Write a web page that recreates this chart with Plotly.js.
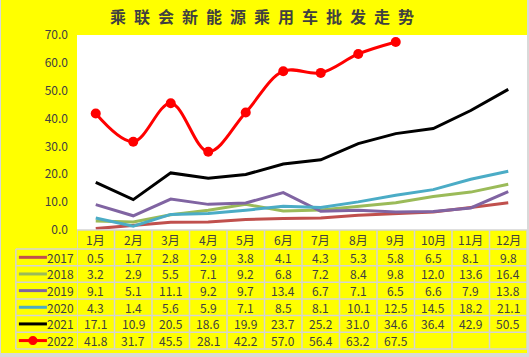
<!DOCTYPE html>
<html>
<head>
<meta charset="utf-8">
<script src="https://cdn.plot.ly/plotly-3.0.1.min.js"></script>
<style>
html,body{margin:0;padding:0;background:#d9d9d9;width:529px;height:357px;overflow:hidden;}
#chart{position:absolute;left:1px;top:0;width:526px;height:353px;}
</style>
</head>
<body>
<div id="chart"></div>
<script>
const months = ['1月','2月','3月','4月','5月','6月','7月','8月','9月','10月','11月','12月'];
const years = ['2017','2018','2019','2020','2021','2022'];
const s2017 = [0.5,1.7,2.8,2.9,3.8,4.1,4.3,5.3,5.8,6.5,8.1,9.8];
const s2018 = [3.2,2.9,5.5,7.1,9.2,6.8,7.2,8.4,9.8,12.0,13.6,16.4];
const s2019 = [9.1,5.1,11.1,9.2,9.7,13.4,6.7,7.1,6.5,6.6,7.9,13.8];
const s2020 = [4.3,1.4,5.6,5.9,7.1,8.5,8.1,10.1,12.5,14.5,18.2,21.1];
const s2021 = [17.1,10.9,20.5,18.6,19.9,23.7,25.2,31.0,34.6,36.4,42.9,50.5];
const s2022 = [41.8,31.7,45.5,28.1,42.2,57.0,56.4,63.2,67.5,null,null,null];
const yTicks = [0,10,20,30,40,50,60,70];

const seriesData = [s2017,s2018,s2019,s2020,s2021,s2022];
const colors = ['#C0504D','#9BBB59','#8064A2','#4BACC6','#000000','#FF0000'];

const H = 353, T = 35, B = 230;
const PH = B - T;
const L = 77, R = 526, PW = R - L;
function py(ypx){ return 1 - (ypx - T)/PH; }
function px(xpx){ return (xpx - L)/PW; }

const traces = seriesData.map((d,i)=>{
  const t = {
    x: months, y: d, name: years[i], type:'scatter', mode:'lines',
    line:{color:colors[i], width:3},
    showlegend:false, hoverinfo:'skip'
  };
  if (i===5){ t.mode='lines+markers'; t.line.shape='spline'; t.marker={size:10,color:colors[i]}; }
  return t;
});

const font = 'Noto Sans CJK SC, sans-serif';
const txtColor = '#404040';
const gridC = '#d4d4d4';
const headTop = 230, headBot = 249, rowH = 16.65;
const shapes = [];
const annotations = [];

shapes.push({type:'line', xref:'x', yref:'paper', x0:-0.5, x1:11.5, y0:py(headTop), y1:py(headTop), line:{color:gridC,width:1.5}});
for (let k=0;k<=12;k++){
  shapes.push({type:'line', xref:'x', yref:'paper', x0:k-0.5, x1:k-0.5, y0:py(headTop), y1:py(headBot+rowH*6), line:{color:gridC,width:1.5}});
}
const legLeft = px(16);
shapes.push({type:'line', xref:'paper', yref:'paper', x0:legLeft, x1:legLeft, y0:py(headBot), y1:py(headBot+rowH*6), line:{color:gridC,width:1.5}});
for (let r=0;r<=6;r++){
  const yy = py(headBot + rowH*r);
  shapes.push({type:'line', xref:'paper', yref:'paper', x0:legLeft, x1:1, y0:yy, y1:yy, line:{color:gridC,width:1.5}});
}
months.forEach((m,j)=>{
  annotations.push({x:m, xref:'x', y:py((headTop+headBot)/2), yref:'paper', text:m, showarrow:false,
    font:{family:font,size:12,color:txtColor}, xanchor:'center', yanchor:'middle'});
});
seriesData.forEach((d,i)=>{
  const yc = py(headBot + rowH*(i+0.5));
  shapes.push({type:'line', xref:'paper', yref:'paper', x0:px(19), x1:px(47), y0:yc, y1:yc, line:{color:colors[i],width:3}});
  if (i===5){
    shapes.push({type:'circle', xref:'paper', yref:'paper', x0:px(29), x1:px(37), y0:yc-4/PH, y1:yc+4/PH, fillcolor:colors[i], line:{color:colors[i],width:1}});
  }
  annotations.push({x:px(61), xref:'paper', y:yc, yref:'paper', text:years[i], showarrow:false,
    font:{family:font,size:12,color:txtColor}, xanchor:'center', yanchor:'middle'});
  d.forEach((v,j)=>{
    if (v===null) return;
    annotations.push({x:months[j], xref:'x', y:yc, yref:'paper', text:v.toFixed(1), showarrow:false,
      font:{family:font,size:12,color:txtColor}, xanchor:'center', yanchor:'middle'});
  });
});

const titleText = '乘联会新能源乘用车批发走势'.split('').join('\u2002');

const layout = {
  width:526, height:H,
  margin:{l:L-1, r:0, t:T, b:H-B},
  paper_bgcolor:'#FFFF00', plot_bgcolor:'#FFFFFF',
  title:{text:titleText, x:0.496, xref:'container', y:1-17/H, yref:'container', xanchor:'center', yanchor:'middle',
    font:{family:font,size:16,color:txtColor,weight:'bold'}},
  xaxis:{type:'category', range:[-0.5,11.5], showticklabels:false, showgrid:false, zeroline:false, showline:false, ticks:'', fixedrange:true},
  yaxis:{range:[0,70], tickvals:yTicks, tickformat:'.1f', showgrid:false, zeroline:false, showline:false, ticks:'',
    ticklabelstandoff:8, tickfont:{family:font,size:12,color:txtColor}},
  shapes:shapes, annotations:annotations, showlegend:false
};
Plotly.newPlot('chart', traces, layout, {staticPlot:true, displayModeBar:false});
</script>
</body>
</html>
